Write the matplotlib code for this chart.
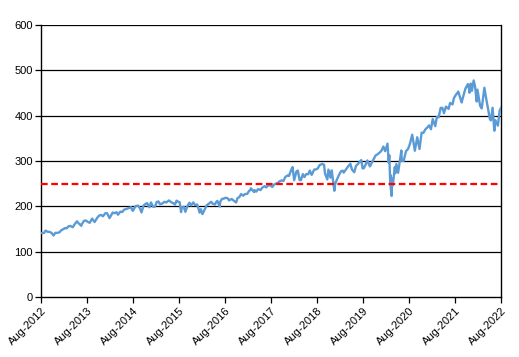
import matplotlib
matplotlib.use("Agg")
import matplotlib.pyplot as plt
import pandas as pd

plt.rcParams['font.family'] = ['Liberation Sans', 'DejaVu Sans']

dates = ["2012-08-08","2012-08-31","2012-09-14","2012-09-28","2012-10-15","2012-10-31","2012-11-15","2012-11-30",
"2012-12-14","2012-12-31","2013-01-15","2013-01-31","2013-02-15","2013-02-28","2013-03-15","2013-03-28",
"2013-04-18","2013-04-30","2013-05-21","2013-05-31","2013-06-24","2013-06-28","2013-07-15","2013-07-31",
"2013-08-15","2013-08-30","2013-09-18","2013-09-30","2013-10-08","2013-10-31","2013-11-15","2013-11-29",
"2013-12-13","2013-12-31","2014-01-15","2014-02-03","2014-02-28","2014-03-14","2014-03-31","2014-04-11",
"2014-04-30","2014-05-15","2014-05-30","2014-06-16","2014-06-30","2014-07-24","2014-07-31","2014-08-07",
"2014-08-29","2014-09-18","2014-09-30","2014-10-15","2014-10-31","2014-11-14","2014-11-28","2014-12-16",
"2014-12-29","2015-01-15","2015-01-30","2015-02-13","2015-02-27","2015-03-11","2015-03-31","2015-04-15",
"2015-04-30","2015-05-20","2015-05-29","2015-06-15","2015-06-30","2015-07-08","2015-07-20","2015-07-31",
"2015-08-14","2015-08-25","2015-08-31","2015-09-15","2015-09-28","2015-10-15","2015-10-30","2015-11-13",
"2015-11-30","2015-12-14","2015-12-31","2016-01-20","2016-01-29","2016-02-11","2016-02-29","2016-03-15",
"2016-03-31","2016-04-20","2016-04-29","2016-05-19","2016-05-31","2016-06-08","2016-06-27","2016-06-30",
"2016-07-15","2016-07-29","2016-08-15","2016-08-31","2016-09-09","2016-09-30","2016-10-14","2016-11-04",
"2016-11-15","2016-11-30","2016-12-13","2016-12-30","2017-01-13","2017-01-31","2017-02-15","2017-02-28",
"2017-03-01","2017-03-27","2017-03-31","2017-04-13","2017-04-28","2017-05-17","2017-05-31","2017-06-19",
"2017-06-30","2017-07-14","2017-07-31","2017-08-18","2017-08-31","2017-09-15","2017-09-29","2017-10-16",
"2017-10-31","2017-11-15","2017-11-30","2017-12-18","2017-12-29","2018-01-12","2018-01-26","2018-02-08",
"2018-02-26","2018-03-09","2018-03-23","2018-04-02","2018-04-18","2018-04-30","2018-05-15","2018-05-31",
"2018-06-12","2018-06-27","2018-07-17","2018-07-31","2018-08-15","2018-08-29","2018-09-20","2018-10-03",
"2018-10-11","2018-10-29","2018-11-07","2018-11-23","2018-12-03","2018-12-24","2018-12-31","2019-01-15",
"2019-01-31","2019-02-15","2019-02-28","2019-03-08","2019-03-29","2019-04-15","2019-04-30","2019-05-13",
"2019-05-31","2019-06-14","2019-06-28","2019-07-26","2019-08-05","2019-08-14","2019-08-30","2019-09-12",
"2019-10-02","2019-10-31","2019-11-15","2019-11-29","2019-12-13","2019-12-31","2020-01-17","2020-01-31",
"2020-02-19","2020-02-28","2020-03-04","2020-03-12","2020-03-13","2020-03-16","2020-03-23","2020-03-26",
"2020-04-01","2020-04-17","2020-04-21","2020-04-29","2020-05-13","2020-05-29","2020-06-08","2020-06-11",
"2020-06-26","2020-07-15","2020-07-31","2020-08-14","2020-09-02","2020-09-23","2020-10-12","2020-10-30",
"2020-11-16","2020-11-30","2020-12-15","2020-12-31","2021-01-14","2021-01-29","2021-02-12","2021-03-04",
"2021-03-17","2021-03-31","2021-04-16","2021-04-30","2021-05-12","2021-05-28","2021-06-18","2021-06-30",
"2021-07-19","2021-07-30","2021-08-16","2021-08-31","2021-09-02","2021-09-30","2021-10-04","2021-10-29",
"2021-11-18","2021-11-30","2021-12-01","2021-12-10","2021-12-20","2022-01-03","2022-01-14","2022-01-27",
"2022-02-02","2022-02-23","2022-03-08","2022-03-29","2022-04-12","2022-04-29","2022-05-12","2022-05-20",
"2022-06-02","2022-06-16","2022-06-24","2022-07-14","2022-07-29","2022-08-08"]

prices = [141.0,141.2,146.5,144.0,143.5,141.4,135.7,141.5,
141.5,142.4,147.0,149.7,152.0,151.6,156.0,156.7,
154.0,159.7,167.0,163.4,157.0,160.4,168.0,168.7,
165.5,163.7,173.0,168.0,165.5,175.8,180.0,181.0,
178.0,184.7,184.7,174.0,186.3,184.7,187.0,181.5,
188.3,187.5,192.7,194.0,195.7,198.0,193.0,190.0,
200.7,201.5,197.0,186.5,201.7,204.8,207.2,197.9,
208.7,199.0,199.4,209.8,210.7,204.5,206.4,210.0,
208.5,213.0,211.1,208.0,205.9,204.0,212.5,210.5,
209.0,187.3,197.7,199.0,188.0,201.0,207.9,202.0,
208.7,203.0,203.9,186.0,193.7,182.9,193.6,202.0,
205.5,210.0,206.3,204.0,209.8,212.0,199.6,209.5,
216.5,217.1,219.0,217.4,213.0,216.3,213.0,208.5,
218.0,220.4,227.0,223.5,227.0,227.5,234.0,236.5,
239.8,231.5,235.7,232.5,238.1,235.8,241.4,244.5,
241.8,245.5,246.8,242.7,247.5,250.0,251.2,255.3,
257.2,256.0,265.0,268.2,266.9,278.0,286.6,257.6,
277.0,278.9,258.1,257.5,271.0,264.5,271.1,270.9,
278.9,269.4,281.1,281.3,283.9,291.0,293.6,291.7,
272.2,259.3,281.0,263.3,279.3,234.3,250.0,260.0,
270.0,277.4,278.7,274.5,282.5,289.0,294.0,280.9,
275.3,289.3,293.0,302.0,283.8,283.9,292.5,301.3,
288.1,303.3,311.8,314.3,317.3,321.9,331.9,321.7,
338.3,296.3,312.9,248.1,269.3,239.9,222.9,261.2,
246.2,286.6,273.0,293.2,274.0,304.3,323.2,300.6,
300.1,321.9,326.5,336.8,358.0,322.6,352.4,326.5,
362.6,362.1,369.6,373.9,378.5,370.1,392.6,376.7,
397.3,396.3,417.3,417.3,405.4,420.0,414.9,428.1,
424.9,438.5,446.6,451.6,453.2,429.1,434.2,459.3,
469.7,455.6,450.5,470.7,454.9,477.7,464.7,431.2,
457.4,421.9,416.0,461.6,438.3,412.0,392.3,389.6,
417.4,366.7,390.1,377.9,412.0,417.0]

reference_level = 250
tick_labels = ["Aug-2012","Aug-2013","Aug-2014","Aug-2015","Aug-2016","Aug-2017",
               "Aug-2018","Aug-2019","Aug-2020","Aug-2021","Aug-2022"]
y_ticks = [0, 100, 200, 300, 400, 500, 600]

x = pd.to_datetime(dates)

fig = plt.figure(figsize=(5.19, 3.57), dpi=100)
ax = fig.add_axes([41/519, 1-297/357, 460/519, 272/357])

for yv in y_ticks[1:]:
    ax.axhline(yv, color='black', lw=0.9, zorder=1)

ax.plot(x, prices, color='#5B9BD5', lw=1.7, zorder=3)
ax.axhline(reference_level, color='#FF0000', lw=1.6, dashes=(3, 1.6), zorder=4)

tick_dates = [pd.Timestamp(2012 + i, 8, 8) for i in range(len(tick_labels))]
ax.set_xticks(tick_dates)
ax.set_xticklabels(tick_labels, rotation=45, ha='right', va='top', rotation_mode='anchor')
ax.set_xlim(tick_dates[0], tick_dates[-1])
ax.set_ylim(0, 600)
ax.set_yticks(y_ticks)

for s in ['left', 'bottom', 'right']:
    ax.spines[s].set_color('black')
    ax.spines[s].set_linewidth(1.0)
ax.spines['top'].set_visible(False)
ax.tick_params(axis='both', direction='out', length=4, width=0.9, labelsize=8, colors='black')
ax.tick_params(axis='x', pad=2)
ax.tick_params(axis='y', pad=2)

fig.savefig("out.png", dpi=100)
